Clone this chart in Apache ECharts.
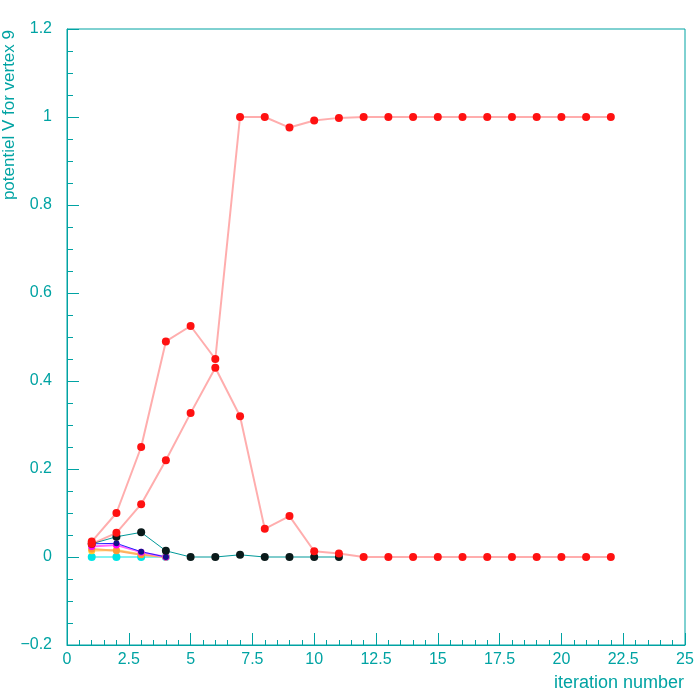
<!DOCTYPE html>
<html>
<head>
<meta charset="utf-8">
<script src="https://cdn.jsdelivr.net/npm/echarts@6/dist/echarts.min.js"></script>
<style>html,body{margin:0;padding:0;background:#fff}#c{width:700px;height:700px}</style>
</head>
<body>
<div id="c"></div>
<script>
// x values (iteration numbers)
const iterLong = [1,2,3,4,5,6,7,8,9,10,11,12,13,14,15,16,17,18,19,20,21,22];
const iterMid = [1,2,3,4,5,6,7,8,9,10,11];
const iterShort = [1,2,3,4];
// series values
const redToOne = [0.035,0.10,0.25,0.49,0.525,0.45,1.0,1.0,0.976,0.992,0.998,1,1,1,1,1,1,1,1,1,1,1];
const redToZero = [0.030,0.055,0.12,0.22,0.327,0.43,0.32,0.064,0.093,0.013,0.008,0,0,0,0,0,0,0,0,0,0,0];
const blackVals = [0.030,0.046,0.056,0.014,0,0,0.005,0,0,0,0];
const blueVals = [0.030,0.031,0.012,0];
const magentaVals = [0.024,0.027,0.011,0];
const orangeVals = [0.018,0.014,0.005,0];
const yellowVals = [0.014,0.016,0.006,0];
const cyanVals = [0,0,0,0];
// tick labels
const xTickLabels = ['0','2.5','5','7.5','10','12.5','15','17.5','20','22.5','25'];
const yTickLabels = ['\u22120.2','0','0.2','0.4','0.6','0.8','1','1.2'];

const TEAL = '#00a3a3';
function pairs(xs, ys){ return xs.map((x,i)=>[x, ys[i]]); }
function mk(name, xs, ys, lineColor, markColor, w, size){
  return {name, type:'line', data:pairs(xs,ys), symbol:'circle', symbolSize:size,
    lineStyle:{color:lineColor, width:w}, itemStyle:{color:markColor}, animation:false, z:2};
}
const chart = echarts.init(document.getElementById('c'));
chart.setOption({
  backgroundColor:'#ffffff',
  animation:false,
  grid:{left:67, right:15, top:29, bottom:55, show:true, borderColor:TEAL, borderWidth:1, backgroundColor:'transparent'},
  xAxis:{type:'value', min:0, max:25, interval:2.5,
    axisLine:{show:true, onZero:false, lineStyle:{color:TEAL}},
    axisTick:{show:true, inside:true, length:12, lineStyle:{color:TEAL}},
    minorTick:{show:true, splitNumber:5, length:5, lineStyle:{color:TEAL}},
    splitLine:{show:false},
    axisLabel:{color:TEAL, fontSize:16, fontFamily:'Liberation Sans', margin:7,
      formatter:(v)=>{const i=Math.round(v/2.5); return xTickLabels[i]!==undefined?xTickLabels[i]:'';}}
  },
  yAxis:{type:'value', min:-0.2, max:1.2, interval:0.2,
    axisLine:{show:true, onZero:false, lineStyle:{color:TEAL}},
    axisTick:{show:true, inside:true, length:12, lineStyle:{color:TEAL}},
    minorTick:{show:true, splitNumber:4, length:6, lineStyle:{color:TEAL}},
    splitLine:{show:false},
    axisLabel:{color:TEAL, fontSize:16, fontFamily:'Liberation Sans', margin:15,
      formatter:(v)=>{const i=Math.round((v+0.2)/0.2); return yTickLabels[i]!==undefined?yTickLabels[i]:'';}}
  },
  graphic:[
    {type:'text', x:9, y:30, rotation:Math.PI/2,
      style:{text:'potentiel V for vertex 9', fill:TEAL, font:'17px "Liberation Sans"', align:'right', verticalAlign:'middle'}},
    {type:'text', x:684, y:683,
      style:{text:'iteration number', fill:TEAL, font:'18px "Liberation Sans"', align:'right', verticalAlign:'middle'}}
  ],
  series:[
    mk('cyan', iterShort, cyanVals, '#00e5e5', '#00e5e5', 1, 8),
    mk('yellow', iterShort, yellowVals, '#ffe08a', '#ffcc33', 2, 7),
    mk('orange', iterShort, orangeVals, '#ffb060', '#ff9933', 2, 7),
    mk('magenta', iterShort, magentaVals, '#ff66ff', '#ff00ff', 2, 7),
    mk('blue', iterShort, blueVals, '#2222ff', '#111188', 1, 6),
    mk('black', iterMid, blackVals, '#009999', '#0a1a1a', 1, 8),
    mk('redZero', iterLong, redToZero, 'rgba(255,0,0,0.32)', '#ff1111', 2, 8),
    mk('redOne', iterLong, redToOne, 'rgba(255,0,0,0.32)', '#ff1111', 2, 8)
  ]
});
</script>
</body>
</html>
